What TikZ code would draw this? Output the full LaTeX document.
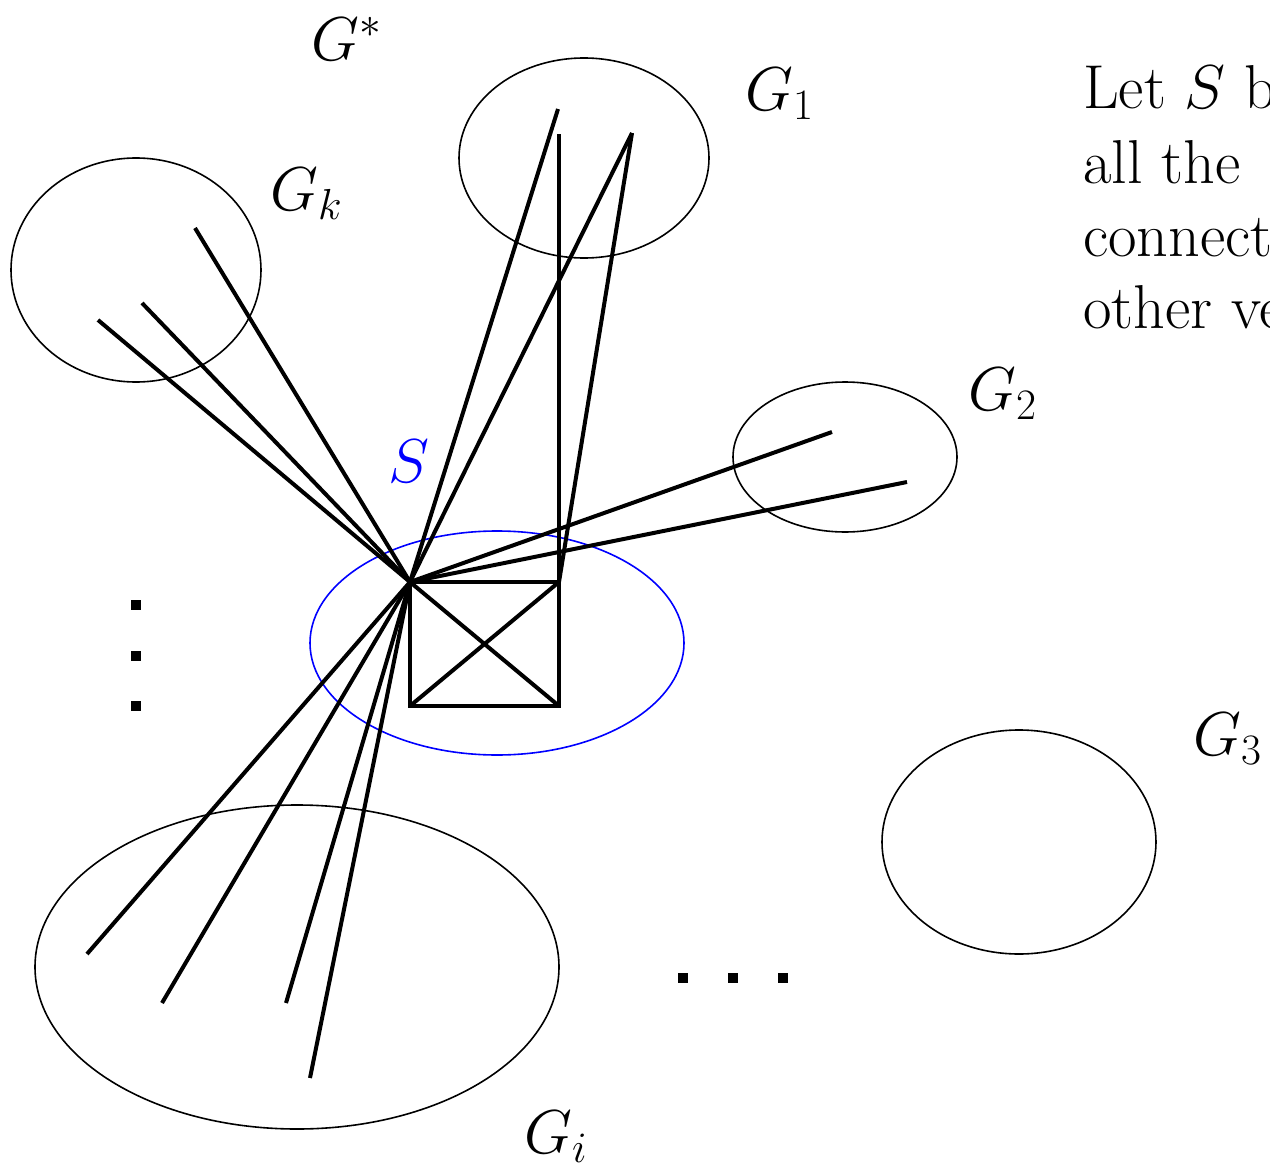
\RequirePackage{fix-cm}
\documentclass[tikz,border=0pt]{standalone}
\usetikzlibrary{shapes.geometric}
\begin{document}
\begin{tikzpicture}[x=1pt,y=-1pt,
  blob/.style={draw,ellipse,line width=1.6pt,inner sep=0pt},
  sblob/.style={blob,draw=blue},
  edge/.style={line width=4pt,line cap=butt},
  lbl/.style={anchor=base west,inner sep=0pt,font=\fontsize{62}{74}\selectfont},
  dotsq/.style={fill=black,minimum size=10pt,inner sep=0pt,rectangle}]
\useasboundingbox (0,0) rectangle (1270,1167);
\clip (0,0) rectangle (1270,1167);
% groups
\node[blob,minimum width=250pt,minimum height=224pt] (Gk) at (136,270) {};
\node[blob,minimum width=250pt,minimum height=200pt] (G1) at (584,158) {};
\node[blob,minimum width=224pt,minimum height=150pt] (G2) at (845,457) {};
\node[blob,minimum width=274pt,minimum height=224pt] (G3) at (1019,842) {};
\node[blob,minimum width=524pt,minimum height=324pt] (Gi) at (297,967) {};
\node[sblob,minimum width=374pt,minimum height=224pt] (Sset) at (497,643) {};
% square of S
\coordinate (h) at (410,582);
\coordinate (tr) at (559,582);
\coordinate (br) at (559,706);
\coordinate (bl) at (410,706);
% endpoints
\coordinate (k1) at (195,228);
\coordinate (k2) at (142,303);
\coordinate (k3) at (98,320);
\coordinate (a1) at (558,109);
\coordinate (a2) at (559,134);
\coordinate (a3) at (632,133);
\coordinate (b1) at (832,432);
\coordinate (b2) at (907,482);
\coordinate (i1) at (87,954);
\coordinate (i2) at (162,1003);
\coordinate (i3) at (286,1003);
\coordinate (i4) at (310,1078);
\draw[edge,line join=miter] (h) -- (tr) -- (br) -- (bl) -- cycle;
\draw[edge] (h) -- (br);
\draw[edge] (tr) -- (bl);
\draw[edge] (h) -- (k1);
\draw[edge] (h) -- (k2);
\draw[edge] (h) -- (k3);
\draw[edge] (h) -- (a1);
\draw[edge] (h) -- (a3);
\draw[edge] (tr) -- (a2);
\draw[edge] (tr) -- (a3);
\draw[edge] (h) -- (b1);
\draw[edge] (h) -- (b2);
\draw[edge] (h) -- (i1);
\draw[edge] (h) -- (i2);
\draw[edge] (h) -- (i3);
\draw[edge] (h) -- (i4);
% dots
\node[dotsq] (v1) at (136,605) {};
\node[dotsq] (v2) at (136,656) {};
\node[dotsq] (v3) at (136,706) {};
\node[dotsq] (d1) at (683,978) {};
\node[dotsq] (d2) at (733,978) {};
\node[dotsq] (d3) at (783,978) {};
% labels
\node[lbl] (lGs) at (311,60) {$G^*$};
\node[lbl] (lG1) at (745,110) {$G_1$};
\node[lbl] (lGk) at (270,210) {$G_k$};
\node[lbl,text=blue] (lS) at (388,482) {$S$};
\node[lbl] (lG2) at (968,410) {$G_2$};
\node[lbl] (lG3) at (1193,755) {$G_3$};
\node[lbl] (lGi) at (524,1153) {$G_i$};
% text
\node[lbl] (t1) at (1083,108) {Let $S$ be};
\node[lbl] (t2) at (1083,183) {all the};
\node[lbl] (t3) at (1083,256) {connected};
\node[lbl] (t4) at (1083,328) {other vertices};
\end{tikzpicture}
\end{document}
